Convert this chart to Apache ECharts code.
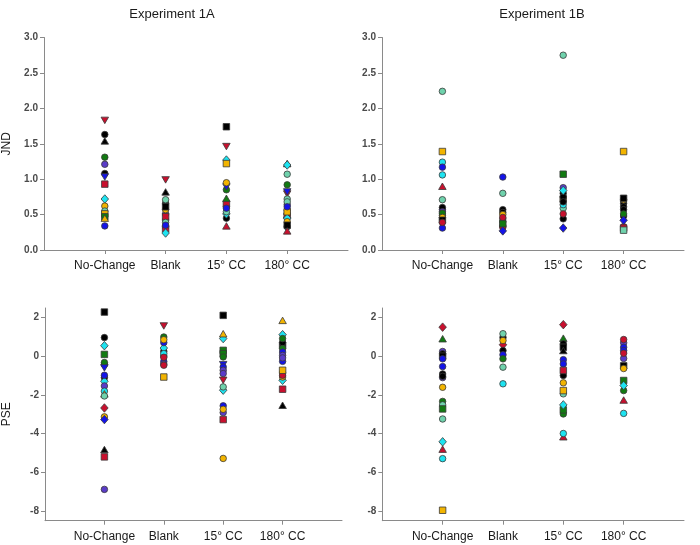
<!DOCTYPE html>
<html>
<head>
<meta charset="utf-8">
<script src="https://cdn.jsdelivr.net/npm/echarts@6/dist/echarts.min.js"></script>
<style>html,body{margin:0;padding:0;background:#fff}#c{width:700px;height:545px}</style>
</head>
<body>
<div id="c"></div>
<script>
const categories = ['No-Change', 'Blank', '15° CC', '180° CC'];
const jndTicks = [0, 0.5, 1, 1.5, 2, 2.5, 3];
const pseTicks = [-8, -6, -4, -2, 0, 2];
const panelTitles = ['Experiment 1A', 'Experiment 1B'];

// marker ids: first letter = colour, second = shape (o circle, s square, ^ triangle, v inverted triangle, d diamond)
// JND, Experiment 1A
const jnd1A_noChange = [1.83, 1.63, 1.54, 1.31, 1.21, 1.08, 1.03, 0.93, 0.72, 0.62, 0.55, 0.51, 0.47, 0.45, 0.34];
const jnd1A_noChange_id = ['rv', 'ko', 'k^', 'go', 'po', 'ko', 'bv', 'rs', 'cd', 'yo', 'ao', 'ys', 'gs', 'y^', 'bo'];
const jnd1A_blank = [0.99, 0.82, 0.71, 0.66, 0.61, 0.57, 0.51, 0.47, 0.42, 0.39, 0.35, 0.33, 0.30, 0.24];
const jnd1A_blank_id = ['rv', 'k^', 'ao', 'ko', 'ks', 'yo', 'po', 'rs', 'go', 'ao', 'bo', 'ko', 'rs', 'cd'];
const jnd1A_cc15 = [1.74, 1.46, 1.27, 1.22, 0.95, 0.89, 0.85, 0.73, 0.65, 0.61, 0.59, 0.54, 0.51, 0.45, 0.34];
const jnd1A_cc15_id = ['ks', 'rv', 'cd', 'ys', 'yo', 'bv', 'go', 'g^', 'rs', 'po', 'bo', 'ao', 'cd', 'ko', 'r^'];
const jnd1A_cc180 = [1.22, 1.20, 1.07, 0.92, 0.82, 0.79, 0.72, 0.68, 0.64, 0.61, 0.56, 0.54, 0.51, 0.48, 0.45, 0.42, 0.40, 0.35, 0.33, 0.27];
const jnd1A_cc180_id = ['k^', 'cd', 'ao', 'go', 'bv', 'rv', 'ao', 'ao', 'po', 'bo', 'yo', 'ys', 'ko', 'rs', 'cd', 'rv', 'yo', 'ks', 'ko', 'r^'];

// JND, Experiment 1B
const jnd1B_noChange = [2.24, 1.39, 1.24, 1.17, 1.06, 0.90, 0.71, 0.60, 0.57, 0.54, 0.52, 0.49, 0.46, 0.42, 0.39, 0.31];
const jnd1B_noChange_id = ['ao', 'ys', 'co', 'bo', 'co', 'r^', 'ao', 'ko', 'bo', 'po', 'go', 'ko', 'yo', 'ks', 'ro', 'bo'];
const jnd1B_blank = [1.03, 0.80, 0.57, 0.53, 0.50, 0.46, 0.44, 0.40, 0.37, 0.34, 0.32, 0.27];
const jnd1B_blank_id = ['bo', 'ao', 'ko', 'ko', 'yo', 'ro', 'ao', 'go', 'gs', 'ko', 'ro', 'bd'];
const jnd1B_cc15 = [2.75, 1.07, 0.88, 0.84, 0.80, 0.75, 0.72, 0.68, 0.64, 0.59, 0.51, 0.44, 0.31];
const jnd1B_cc15_id = ['ao', 'gs', 'po', 'cd', 'ko', 'ko', 'ys', 'ko', 'co', 'ao', 'ro', 'ko', 'bd'];
const jnd1B_cc180 = [1.39, 0.73, 0.71, 0.66, 0.61, 0.57, 0.51, 0.48, 0.42, 0.33, 0.31, 0.28];
const jnd1B_cc180_id = ['ys', 'ks', 'yo', 'ko', 'ko', 'ko', 'go', 'ko', 'bd', 'ro', 'rs', 'as'];

// PSE, Experiment 1A
const pse1A_noChange = [2.29, 0.97, 0.55, 0.10, -0.32, -0.42, -0.60, -0.98, -1.10, -1.29, -1.53, -1.80, -1.94, -2.05, -2.67, -3.13, -3.27, -4.82, -5.20, -6.88];
const pse1A_noChange_id = ['ks', 'ko', 'cd', 'gs', 'go', 'ko', 'bv', 'bo', 'ko', 'cd', 'po', 'co', 'y^', 'ao', 'rd', 'yo', 'bd', 'k^', 'rs', 'po'];
const pse1A_blank = [1.57, 1.00, 0.86, 0.71, 0.43, 0.26, 0.14, 0.02, -0.05, -0.27, -0.40, -0.46, -1.07];
const pse1A_blank_id = ['rv', 'go', 'yo', 'bo', 'cd', 'ko', 'co', 'ko', 'ro', 'bo', 'po', 'ro', 'ys'];
const pse1A_cc15 = [2.12, 1.17, 0.92, 0.31, 0.14, -0.03, -0.43, -0.55, -0.72, -0.89, -1.24, -1.58, -1.75, -2.56, -2.74, -2.91, -3.27, -5.28];
const pse1A_cc15_id = ['ks', 'y^', 'cd', 'gs', 'gs', 'go', 'bv', 'bo', 'po', 'po', 'rv', 'ao', 'cd', 'bo', 'yo', 'po', 'rs', 'yo'];
const pse1A_cc180 = [1.86, 1.12, 0.92, 0.71, 0.57, 0.40, 0.22, 0.05, -0.08, -0.26, -0.72, -0.86, -0.98, -1.07, -1.24, -1.70, -2.53];
const pse1A_cc180_id = ['y^', 'cd', 'go', 'ko', 'ks', 'go', 'bo', 'po', 'po', 'bo', 'ys', 'yo', 'ro', 'yo', 'cd', 'rs', 'k^'];

// PSE, Experiment 1B
const pse1B_noChange = [1.51, 0.91, 0.25, 0.13, 0.01, -0.13, -0.53, -0.91, -1.03, -1.10, -1.60, -2.33, -2.51, -2.72, -3.24, -4.42, -4.80, -5.29, -7.96];
const pse1B_noChange_id = ['rd', 'g^', 'po', 'ko', 'ks', 'bo', 'bo', 'ko', 'ko', 'po', 'yo', 'go', 'ao', 'gs', 'ao', 'cd', 'r^', 'co', 'ys'];
const pse1B_blank = [1.17, 0.98, 0.82, 0.60, 0.30, 0.08, -0.13, -0.56, -1.42];
const pse1B_blank_id = ['ao', 'ko', 'yo', 'rd', 'ko', 'bo', 'go', 'ao', 'co'];
const pse1B_cc15 = [1.64, 0.94, 0.65, 0.47, 0.30, -0.17, -0.39, -0.73, -0.99, -1.37, -1.77, -1.94, -2.51, -2.77, -2.98, -3.99, -4.16];
const pse1B_cc15_id = ['rd', 'g^', 'ko', 'ks', 'k^', 'bo', 'bo', 'rs', 'ko', 'yo', 'ys', 'ao', 'cd', 'gs', 'go', 'co', 'r^'];
const pse1B_cc180 = [0.87, 0.70, 0.47, 0.30, 0.16, -0.11, -0.49, -0.63, -1.25, -1.51, -1.77, -2.26, -2.95];
const pse1B_cc180_id = ['ro', 'po', 'bo', 'bo', 'ro', 'po', 'ks', 'yo', 'gs', 'cd', 'go', 'r^', 'co'];

const panels = [
  { values: [jnd1A_noChange, jnd1A_blank, jnd1A_cc15, jnd1A_cc180], ids: [jnd1A_noChange_id, jnd1A_blank_id, jnd1A_cc15_id, jnd1A_cc180_id] },
  { values: [jnd1B_noChange, jnd1B_blank, jnd1B_cc15, jnd1B_cc180], ids: [jnd1B_noChange_id, jnd1B_blank_id, jnd1B_cc15_id, jnd1B_cc180_id] },
  { values: [pse1A_noChange, pse1A_blank, pse1A_cc15, pse1A_cc180], ids: [pse1A_noChange_id, pse1A_blank_id, pse1A_cc15_id, pse1A_cc180_id] },
  { values: [pse1B_noChange, pse1B_blank, pse1B_cc15, pse1B_cc180], ids: [pse1B_noChange_id, pse1B_blank_id, pse1B_cc15_id, pse1B_cc180_id] }
];

const colourMap = { k: '#000000', r: '#c8102e', g: '#127a12', b: '#1414e8', p: '#5a3cc8', c: '#1ee3f0', a: '#6fd2ac', y: '#f2b400' };
const shapeMap = {
  o: { symbol: 'circle', size: 6.5, rotate: 0 },
  s: { symbol: 'rect', size: 6.5, rotate: 0 },
  '^': { symbol: 'triangle', size: [7.5, 6.5], rotate: 0 },
  v: { symbol: 'triangle', size: [7.5, 6.5], rotate: 180 },
  d: { symbol: 'diamond', size: [7.5, 8.5], rotate: 0 }
};

const grids = [
  { left: 42, top: 37.5, width: 306, height: 212.5 },
  { left: 382, top: 37.5, width: 302, height: 212.5 },
  { left: 39.5, top: 308, width: 302.5, height: 212.7 },
  { left: 382.3, top: 308, width: 301.7, height: 212.7 }
];

const axisColor = '#8a8a8a';
const xAxes = grids.map((g, i) => ({
  type: 'value', gridIndex: i, min: 0, max: 5,
  axisLine: { onZero: false, lineStyle: { color: axisColor, width: 1 } },
  axisTick: { customValues: [1, 2, 3, 4], length: 4, lineStyle: { color: axisColor } },
  splitLine: { show: false },
  axisLabel: {
    customValues: [1, 2, 3, 4], margin: 10,
    formatter: v => categories[v - 1] || '',
    fontFamily: 'Liberation Sans', fontSize: 12, color: '#1a1a1a'
  }
}));

const yAxes = grids.map((g, i) => {
  const isJnd = i < 2;
  const ax = {
    type: 'value', gridIndex: i,
    axisLine: { show: true, onZero: false, lineStyle: { color: axisColor, width: 1 } },
    splitLine: { show: false },
    axisTick: { show: true, length: 4, lineStyle: { color: axisColor } },
    axisLabel: {
      margin: 6, fontFamily: 'Liberation Sans', fontSize: 10, fontWeight: 'bold', color: '#4a4a4a'
    }
  };
  if (isJnd) {
    ax.min = 0; ax.max = 3; ax.interval = 0.5;
    ax.axisLabel.formatter = v => v.toFixed(1);
    ax.axisTick.customValues = jndTicks;
    ax.axisLabel.customValues = jndTicks;
  } else {
    ax.min = -8.5; ax.max = 2.5;
    ax.axisTick.customValues = pseTicks;
    ax.axisLabel.customValues = pseTicks;
    ax.axisLabel.formatter = v => String(v);
  }
  if (i === 0) { ax.name = 'JND'; }
  if (i === 2) { ax.name = 'PSE'; }
  if (ax.name) {
    ax.nameLocation = 'middle';
    ax.nameGap = i === 0 ? 31 : 32;
    ax.nameTextStyle = { fontFamily: 'Liberation Sans', fontSize: 12, color: '#1a1a1a' };
  }
  return ax;
});

const series = [];
panels.forEach((panel, pi) => {
  const groups = {};
  const order = [];
  panel.values.forEach((vals, ci) => {
    vals.forEach((v, k) => {
      const id = panel.ids[ci][k];
      if (!groups[id]) { groups[id] = []; order.push(id); }
      groups[id].push([ci + 1, v]);
    });
  });
  order.forEach(id => {
    const shape = shapeMap[id[1]];
    series.push({
      type: 'scatter', xAxisIndex: pi, yAxisIndex: pi,
      data: groups[id],
      symbol: shape.symbol, symbolSize: shape.size, symbolRotate: shape.rotate,
      itemStyle: { color: colourMap[id[0]], borderColor: '#3a3a3a', borderWidth: 0.8, opacity: 1 },
      emphasis: { disabled: true },
      silent: true, animation: false
    });
  });
});

const chart = echarts.init(document.getElementById('c'), null, { renderer: 'canvas' });
chart.setOption({
  backgroundColor: '#ffffff',
  animation: false,
  title: [
    { text: panelTitles[0], left: 167, top: 3, textAlign: 'center', textStyle: { fontFamily: 'Liberation Sans', fontSize: 13, fontWeight: 'normal', color: '#1a1a1a' } },
    { text: panelTitles[1], left: 537, top: 3, textAlign: 'center', textStyle: { fontFamily: 'Liberation Sans', fontSize: 13, fontWeight: 'normal', color: '#1a1a1a' } }
  ],
  grid: grids,
  xAxis: xAxes,
  yAxis: yAxes,
  series: series
});
</script>
</body>
</html>
